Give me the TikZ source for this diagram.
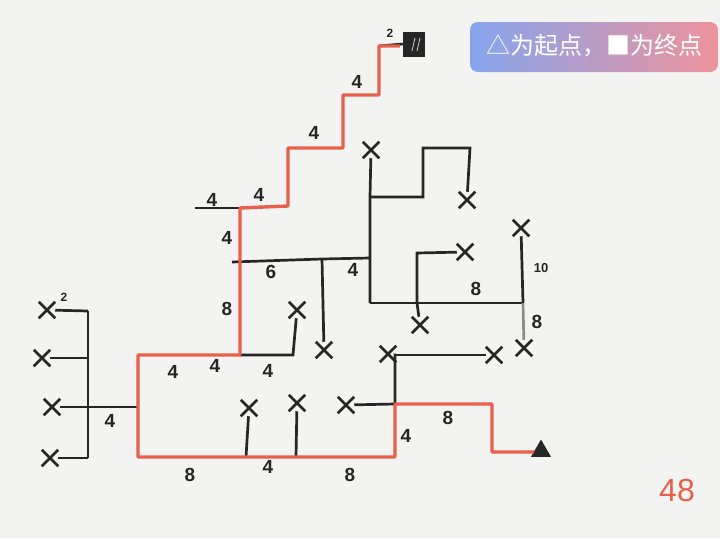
\documentclass[tikz,border=0pt]{standalone}
\usepackage{fontspec}
\setmainfont{Liberation Sans}
\newfontfamily\cjk{Noto Sans CJK SC}
\usetikzlibrary{shapes.misc, shapes.geometric}
\definecolor{routered}{HTML}{E8604C}
\definecolor{tagblue}{HTML}{86A5EE}
\definecolor{tagpink}{HTML}{EE939C}
\definecolor{paper}{HTML}{F3F3F1}

\begin{document}
\begin{tikzpicture}[x=1pt,y=-1pt,
  wall/.style={line width=2.7pt, black!85},
  route/.style={line width=3.4pt, routered},
  xmark/.style={cross out, draw=black!85, line width=2.5pt, minimum size=14pt, inner sep=0pt},
  lab/.style={font=\fontsize{19}{19}\selectfont\bfseries, text=black!85}]
\fill[paper] (0,0) rectangle (720,538);
\useasboundingbox (0,0) rectangle (720,538);

% start and goal
\node[regular polygon, regular polygon sides=3, fill=black!85, minimum size=23pt, inner sep=0pt] (start) at (541,451) {};
\node[rectangle, fill=black!85, minimum width=22pt, minimum height=25pt, inner sep=0pt] (goal) at (414,44) {};
\draw[white!80!black, line width=0.8pt] (goal.center) ++(-2,7) -- ++(3,-13) ++(2,13) -- ++(3,-13);

% route corners
\coordinate (r1) at (492,452);
\coordinate (r2) at (492,404);
\coordinate (r3) at (395,404);
\coordinate (r4) at (395,457);
\coordinate (r5) at (138,457);
\coordinate (r6) at (138,355);
\coordinate (r7) at (240,355);
\coordinate (r8) at (240,208);
\coordinate (r9) at (288,206);
\coordinate (r10) at (288,148);
\coordinate (r11) at (343,148);
\coordinate (r12) at (343,95);
\coordinate (r13) at (379,95);
\coordinate (r14) at (379,46);

% crosses
\node[xmark] (xa) at (324,350) {};
\node[xmark] (xb) at (297,310) {};
\node[xmark] (xc) at (371,150) {};
\node[xmark] (xd) at (467,200) {};
\node[xmark] (xe) at (465,252) {};
\node[xmark] (xf) at (420,325) {};
\node[xmark] (xg) at (521,228) {};
\node[xmark] (xh) at (524,348) {};
\node[xmark] (xi) at (388,354) {};
\node[xmark] (xj) at (494,355) {};
\node[xmark] (xk) at (346,405) {};
\node[xmark] (xl) at (249,408) {};
\node[xmark] (xm) at (297,403) {};
\node[xmark] (xn1) at (47,310) {};
\node[xmark] (xn2) at (42,358) {};
\node[xmark] (xn3) at (52,407) {};
\node[xmark] (xn4) at (50,458) {};

% wall corners
\coordinate (w1) at (195,208);
\coordinate (w2) at (320,148);
\coordinate (w3) at (368,95);
\coordinate (h1) at (232,262);
\coordinate (h2) at (322,259);
\coordinate (h3) at (370,258);
\coordinate (b1) at (293,355);
\coordinate (v1) at (370,197);
\coordinate (v2) at (423,197);
\coordinate (v3) at (423,148);
\coordinate (v4) at (470,148);
\coordinate (v5) at (370,303);
\coordinate (v6) at (417,303);
\coordinate (v7) at (417,253);
\coordinate (v8) at (523,303);
\coordinate (k1) at (395,355);
\coordinate (p1) at (246,457);
\coordinate (p2) at (296,457);
\coordinate (j1) at (88,311);
\coordinate (j2) at (88,358);
\coordinate (j3) at (88,407);
\coordinate (j4) at (88,458);
\coordinate (t3) at (138,407);

% walls
\draw[wall] (w1) -- (r8);
\draw[wall] (r10) -- (w2);
\draw[wall] (r12) -- (w3);
\draw[wall] (r14) -- (goal.west);
\draw[wall] (h1) -- (h2) -- (h3);
\draw[wall] (h2) -- (xa);
\draw[wall] (r7) -- (b1) -- (xb);
\draw[wall] (xc) -- (v1) -- (v5);
\draw[wall] (v1) -- (v2) -- (v3) -- (v4) -- (xd);
\draw[wall] (v5) -- (v6) -- (v8);
\draw[wall] (xf) -- (v6) -- (v7) -- (xe);
\draw[wall] (xg) -- (v8);
\draw[wall, black!45] (v8) -- (xh);
\draw[wall] (xi) -- (k1) -- (r3);
\draw[wall] (k1) -- (xj);
\draw[wall] (xk) -- (r3);
\draw[wall] (p1) -- (xl);
\draw[wall] (p2) -- (xm);
\draw[wall] (j1) -- (j4);
\draw[wall] (xn1) -- (j1);
\draw[wall] (xn2) -- (j2);
\draw[wall] (xn3) -- (t3);
\draw[wall] (xn4) -- (j4);

% route
\draw[route, line join=round] (start.west |- r1) -- (r1) -- (r2) -- (r3) -- (r4) -- (r5) -- (r6) -- (r7) -- (r8) -- (r9) -- (r10) -- (r11) -- (r12) -- (r13) -- (r14) -- ([xshift=-3pt]goal.west |- r14);

% lengths
\node[lab, font=\fontsize{12}{12}\selectfont\bfseries] (l1) at (390,33) {2};
\node[lab] (l2) at (357,82) {4};
\node[lab] (l3) at (314,133) {4};
\node[lab] (l4) at (259,195) {4};
\node[lab] (l5) at (212,200) {4};
\node[lab] (l6) at (227,238) {4};
\node[lab] (l7) at (227,309) {8};
\node[lab] (l8) at (271,272) {6};
\node[lab] (l9) at (353,270) {4};
\node[lab] (l10) at (173,372) {4};
\node[lab] (l11) at (215,366) {4};
\node[lab] (l12) at (268,371) {4};
\node[lab] (l13) at (476,289) {8};
\node[lab, font=\fontsize{13}{13}\selectfont\bfseries] (l14) at (541,268) {10};
\node[lab] (l15) at (537,322) {8};
\node[lab] (l16) at (448,418) {8};
\node[lab] (l17) at (406,436) {4};
\node[lab] (l18) at (190,475) {8};
\node[lab] (l19) at (268,467) {4};
\node[lab] (l20) at (350,475) {8};
\node[lab, font=\fontsize{12}{12}\selectfont\bfseries] (l21) at (64,297) {2};
\node[lab] (l22) at (110,421) {4};

% legend and page number
\shade[left color=tagblue, right color=tagpink, rounded corners=8pt] (470,22) rectangle (718,72);
\node[text=white, font=\cjk\fontsize{24}{24}\selectfont] (legend) at (594,46) {△为起点，■为终点};
\node[text=routered, font=\fontsize{32}{32}\selectfont] (page) at (677,490) {48};
\end{tikzpicture}
\end{document}
